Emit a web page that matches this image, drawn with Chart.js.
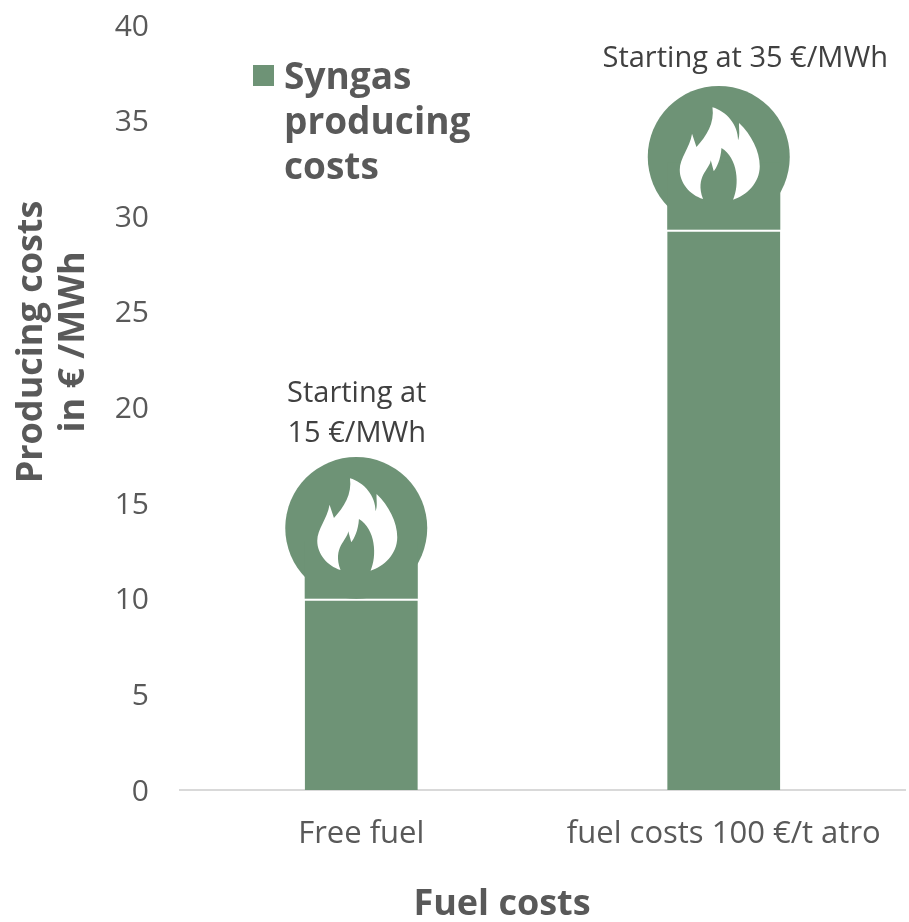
<!DOCTYPE html>
<html>
<head>
<meta charset="utf-8">
<title>Syngas producing costs</title>
<script src="https://cdn.jsdelivr.net/npm/chart.js@4/dist/chart.umd.min.js"></script>
<style>
  html, body { margin: 0; padding: 0; background: #fff; }
  canvas { display: block; }
</style>
</head>
<body>
<canvas id="costChart" width="909" height="922"></canvas>
<script>
const categories = ['Free fuel', 'fuel costs 100 €/t atro'];
const baseValues = [10, 29.3];
const upperValues = [3, 3.5];
const iconValues = [13.7, 33.1];
const noteLines = [['Starting at', '15 €/MWh'], ['Starting at 35 €/MWh']];
const noteValues = [[20.7, 18.65], [38.25]];
const legendLines = ['Syngas', 'producing', 'costs'];
const yTitleLines = ['Producing costs', 'in € /MWh'];
const xTitle = 'Fuel costs';
const yMax = 40;
const yStep = 5;

const GREEN = '#6e9376';
const GREY = '#595959';
const FONT = '"Open Sans", sans-serif';

// flame outline, relative to the circle centre
const flame = new Path2D(`M -6.3 -49.7
  C 7.7 -45.7 19.3 -32.3 19.3 -16.7
  C 21.5 -22 20 -28 20.3 -34
  C 32.7 -22.3 41 -5.7 41 9.3
  C 41 26 27.7 38.7 14.3 42.7
  C 21 27.7 19.3 1 2.7 -9
  C 2 2.7 -2.3 11 -5 14.3
  L -8 3.3
  C -9 12.7 -24 19.3 -15.7 42
  C -29 37.7 -39 26 -39 12.7
  C -39 1 -29 -9 -26.7 -23.3
  L -22.3 -10
  C -12.3 -20.7 -4 -34 -6.3 -49.7 Z`);

function iconCentre(chart, i) {
  const { x, y } = chart.scales;
  return [x.getPixelForValue(i) - 5, y.getPixelForValue(iconValues[i])];
}

const overlayPlugin = {
  id: 'overlay',
  // circle goes under the bars so the white line stays visible
  beforeDatasetsDraw(chart) {
    const { ctx } = chart;
    ctx.save();
    ctx.fillStyle = GREEN;
    iconValues.forEach((v, i) => {
      const [cx, cy] = iconCentre(chart, i);
      ctx.beginPath();
      ctx.arc(cx, cy, 71, 0, Math.PI * 2);
      ctx.fill();
    });
    ctx.restore();
  },
  afterDatasetsDraw(chart) {
    const { ctx, scales: { x, y } } = chart;
    ctx.save();

    iconValues.forEach((v, i) => {
      const [cx, cy] = iconCentre(chart, i);
      ctx.save();
      ctx.translate(cx, cy);
      ctx.fillStyle = '#fff';
      ctx.fill(flame);
      ctx.restore();
    });

    // notes over the bars
    ctx.fillStyle = '#404040';
    ctx.font = '29px ' + FONT;
    ctx.textAlign = 'center';
    ctx.textBaseline = 'middle';
    noteLines.forEach((lines, i) => {
      const cx = x.getPixelForValue(i) + (i === 0 ? -4.5 : 21.5);
      lines.forEach((line, j) => {
        ctx.fillText(line, cx, y.getPixelForValue(noteValues[i][j]));
      });
    });

    // legend
    ctx.fillStyle = GREEN;
    ctx.fillRect(253, 65, 21, 21);
    ctx.fillStyle = GREY;
    ctx.font = 'bold 37px ' + FONT;
    ctx.textAlign = 'left';
    legendLines.forEach((line, i) => ctx.fillText(line, 284, 78 + i * 45));

    // axis titles, off-centre in the original so not the scale's own title
    ctx.font = 'bold 36px ' + FONT;
    ctx.textAlign = 'center';
    ctx.fillText(xTitle, 502, 905);
    ctx.translate(0, 342);
    ctx.rotate(-Math.PI / 2);
    yTitleLines.forEach((line, i) => ctx.fillText(line, 0, 32 + i * 42));

    ctx.restore();
  }
};

new Chart(document.getElementById('costChart').getContext('2d'), {
  type: 'bar',
  data: {
    labels: categories,
    datasets: [
      {
        data: baseValues,
        backgroundColor: GREEN,
        borderColor: '#fff',
        borderWidth: { top: 2 },
        borderSkipped: false
      },
      {
        data: upperValues,
        backgroundColor: GREEN,
        borderWidth: 0
      }
    ]
  },
  options: {
    responsive: false,
    animation: false,
    layout: { padding: { top: 25, right: 4, left: 0, bottom: 0 } },
    barPercentage: 1,
    categoryPercentage: 0.312,
    plugins: {
      legend: { display: false },
      tooltip: { enabled: false }
    },
    scales: {
      x: {
        stacked: true,
        grid: { display: false, drawTicks: false },
        border: { color: '#d9d9d9', width: 2 },
        ticks: { color: GREY, font: { family: FONT, size: 31 }, padding: 26, maxRotation: 0 },
        afterFit(scale) { scale.height = 132; }
      },
      y: {
        stacked: true,
        min: 0,
        max: yMax,
        // tick length instead of tick padding: padding also pushes the top of the axis down
        grid: { display: false, drawTicks: true, tickLength: 31 },
        border: { display: false },
        ticks: { color: GREY, stepSize: yStep, font: { family: FONT, size: 30 }, padding: 0, labelOffset: 2 },
        afterFit(scale) { scale.width = 180; }
      }
    }
  },
  plugins: [overlayPlugin]
});
</script>
</body>
</html>
